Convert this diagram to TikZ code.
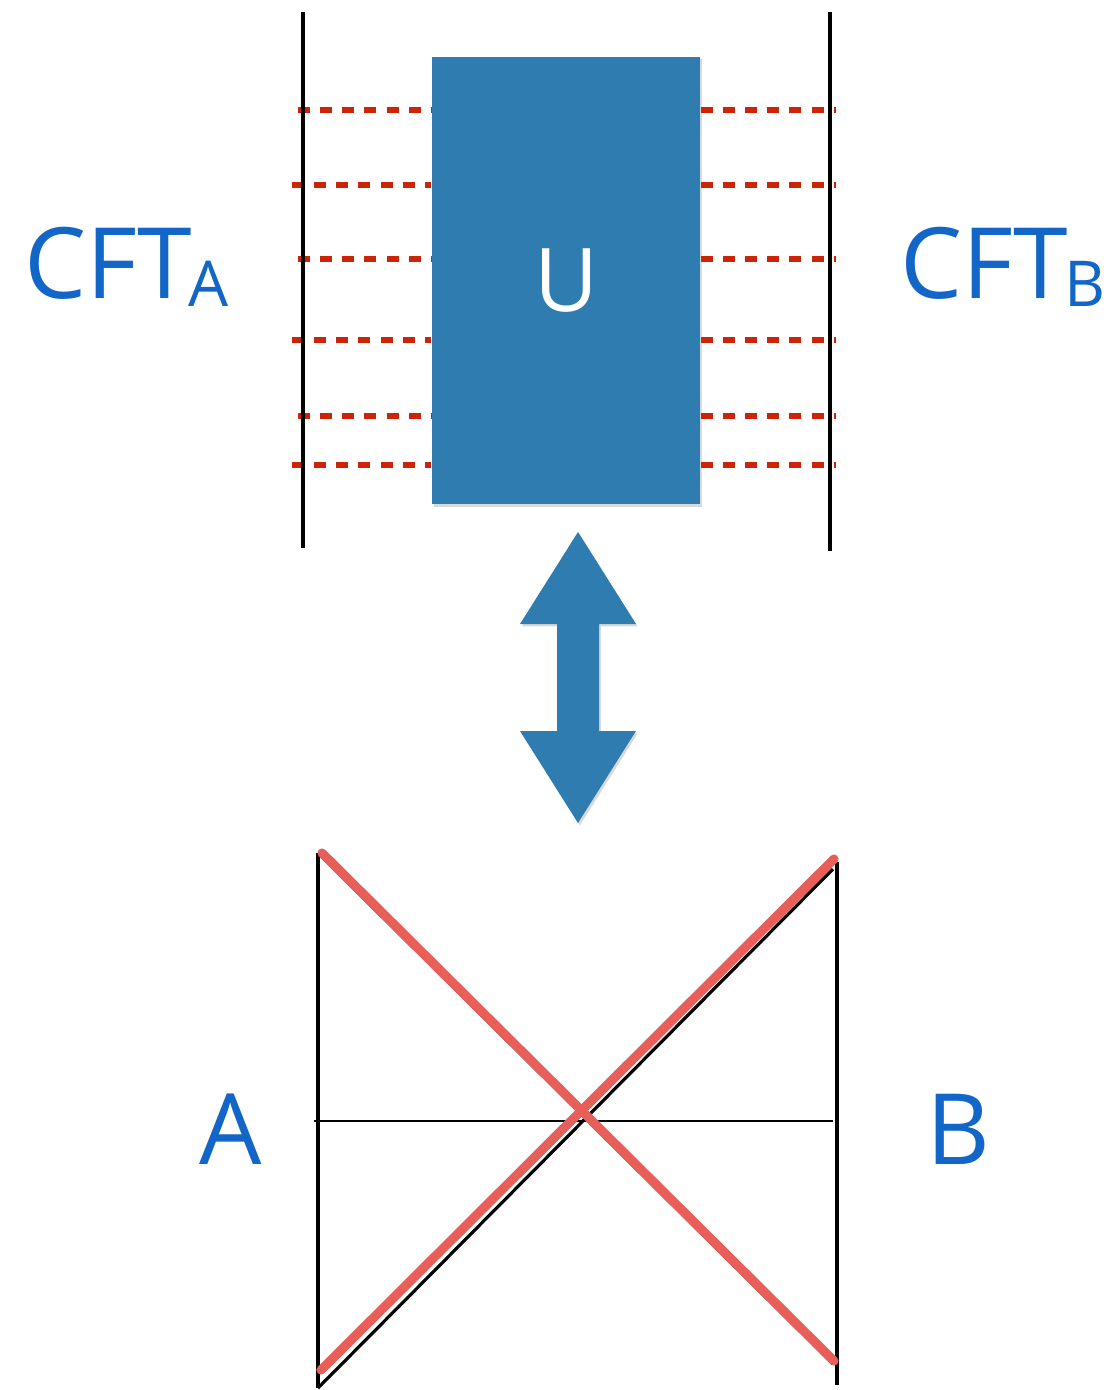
\documentclass[tikz,border=0pt]{standalone}
\usepackage{fontspec}
\setmainfont{Open Sans}
\usepackage{tikz}
\usetikzlibrary{positioning,shadows}

\definecolor{slateblue}{RGB}{46,124,176}
\definecolor{inkblue}{RGB}{18,102,200}
\definecolor{dashred}{RGB}{204,36,6}
\definecolor{crossred}{RGB}{232,94,88}

\newcommand{\lowsub}[1]{\kern-1pt\raisebox{-2.3pt}{\fontsize{18}{22}\selectfont #1}}

\tikzset{
  wall/.style={line width=1.3pt, black},
  qline/.style={line width=1.5pt, dashred, dash pattern=on 3.4pt off 2.9pt},
  xline/.style={line width=2.6pt, crossred, line cap=round},
  label/.style={text=inkblue, font=\fontsize{28}{34}\selectfont, inner sep=0pt},
  softshadow/.style={drop shadow={shadow xshift=0.5pt, shadow yshift=-0.7pt, opacity=0.3}}
}

\begin{document}
\begin{tikzpicture}[x=0.01cm,y=-0.01cm]
\useasboundingbox (0,0) rectangle (1105,1390);
% top: boundary CFTs and the unitary
\coordinate (lt) at (303,12);  \coordinate (lb) at (303,548);
\coordinate (rt) at (830,12);  \coordinate (rb) at (830,551);
\node[softshadow, fill=slateblue, minimum width=2.68cm, minimum height=4.47cm,
      inner sep=0pt, text=white, font=\fontsize{25}{30}\selectfont] (U) at (566,280.5) {U};
\foreach \y/\s in {110/298,185/292,259/298,340/292,416/298,465/292} {
  \draw[qline] (\s,\y) -- (U.west |- 0,\y);
  \draw[qline] (U.east |- 0,\y) -- (836,\y);
}
\draw[wall] (lt) -- (lb);
\draw[wall] (rt) -- (rb);
\node[label, anchor=base west] (cfta) at (24,298) {CFT\lowsub{A}};
\node[label, anchor=base west] (cftb) at (900,298) {CFT\lowsub{B}};
% duality arrow
\fill[slateblue, softshadow] (578,532) -- (636,624) -- (599,624) -- (599,731) -- (636,731)
  -- (578,823) -- (520,731) -- (557,731) -- (557,624) -- (520,624) -- cycle;
% bottom: eternal black hole
\coordinate (tl) at (318,853);  \coordinate (bl) at (318,1388);
\coordinate (tr) at (837,862);  \coordinate (br) at (837,1385);
\draw[wall] (tl) -- (bl);
\draw[wall] (tr) -- (br);
\draw[line width=0.6pt] (314,1121) -- (833,1121);
\draw[line width=0.9pt] (tl) -- (833,1364);
\draw[line width=0.9pt] (bl) -- (833,869);
\draw[xline] (322,853) -- (834,1361);
\draw[xline] (321,1370) -- (834,859);
\node[label, anchor=base west] (A) at (199,1164) {A};
\node[label, anchor=base west] (B) at (926,1164) {B};
\end{tikzpicture}
\end{document}
